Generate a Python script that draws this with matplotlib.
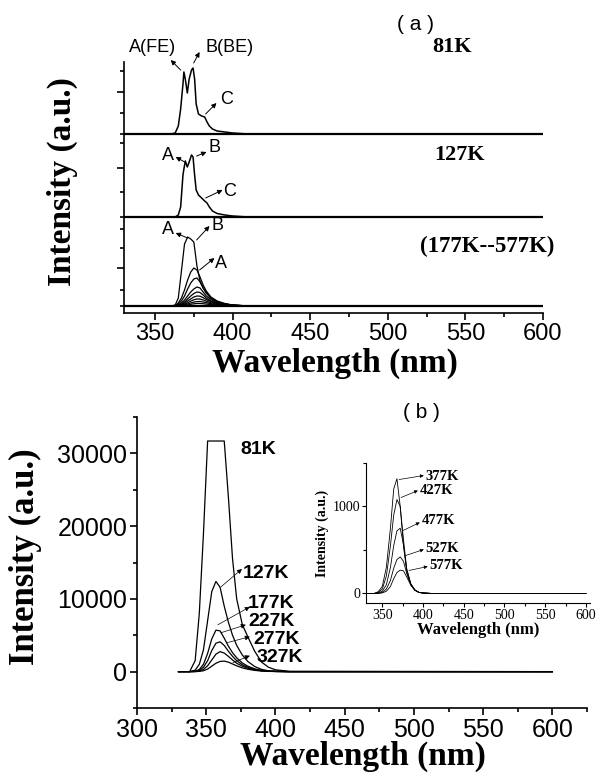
import numpy as np
import matplotlib
matplotlib.use("Agg")
from matplotlib import pyplot as plt

plt.rcParams['font.family'] = ['Liberation Sans', 'DejaVu Sans']

# ---- panel (a): stacked PL spectra (arbitrary units) ----
wl_a = [330, 355, 360, 363, 365, 366.5, 368, 368.6, 369.5, 370.8, 372, 373.5, 374.5,
        375.5, 376.5, 378, 380, 382, 383.5, 385, 387, 390, 395, 400, 410, 600]
pl_81k = [0, 0, 0, 1, 8, 25, 50, 62, 55, 41, 55, 64, 66, 55, 30, 20, 18, 17, 12, 8, 5, 3, 2, 1, 0, 0]
pl_127k = [0, 0, 0, 0, 2, 10, 42, 48, 56, 50, 55, 62, 60, 42, 27, 22, 19, 16, 14, 10, 6, 3.5, 2, 1, 0, 0]

wl_c = [330, 360, 363, 365, 367, 369, 371, 373, 375, 377, 379, 381, 383, 386, 390, 395, 400, 410, 600]
temps_c = ['177K', '227K', '277K', '327K', '377K', '427K', '477K', '527K', '577K']
pl_hot = [
    [0, 0, 1, 8, 35, 62, 69, 67, 64, 40, 25, 18, 13, 8, 4, 2, 1, 0, 0],
    [0, 0, 0.5, 3, 8, 16, 26, 34, 38, 36, 29, 21, 15, 9, 5, 2.5, 1, 0, 0],
    [0, 0, 0.3, 2, 5, 10, 17, 23, 27, 28, 24, 18, 13, 8, 4.5, 2, 1, 0, 0],
    [0, 0, 0.2, 1.2, 3, 6, 10, 14, 17, 19, 18, 14, 10, 6.5, 3.5, 1.8, 0.8, 0, 0],
    [0, 0, 0, 0.8, 2, 4, 7, 10, 12.5, 14, 13.5, 11, 8, 5, 3, 1.5, 0.6, 0, 0],
    [0, 0, 0, 0.5, 1.3, 2.8, 5, 7, 9, 10, 9.8, 8.3, 6.5, 4.2, 2.5, 1.2, 0.5, 0, 0],
    [0, 0, 0, 0.3, 0.8, 1.8, 3.2, 4.8, 6.2, 7, 6.9, 6, 4.8, 3.2, 2, 1, 0.4, 0, 0],
    [0, 0, 0, 0.2, 0.5, 1.1, 2, 3, 3.9, 4.4, 4.5, 4, 3.3, 2.3, 1.4, 0.7, 0.3, 0, 0],
    [0, 0, 0, 0.1, 0.3, 0.6, 1.1, 1.7, 2.2, 2.5, 2.5, 2.3, 1.9, 1.4, 0.9, 0.5, 0.2, 0, 0],
]
offsets_a = [172, 89, 0]

# ---- panel (b): intensity vs wavelength, 81K..327K ----
wl_b = [330, 338, 342, 345, 348, 351, 354, 357, 360, 363, 366, 369, 372, 376, 380, 385, 390, 395, 400, 410, 600]
temps_b = ['81K', '127K', '177K', '227K', '277K', '327K']
int_b = [
    [0, 0, 1500, 8000, 19000, 31700, 31700, 31700, 31700, 31700, 24000, 15500, 10000, 6500, 4800, 2800, 1300, 600, 250, 50, 0],
    [0, 0, 200, 1000, 3000, 7000, 11000, 12400, 11600, 9000, 6800, 5000, 3600, 2300, 1400, 700, 300, 120, 50, 0, 0],
    [0, 0, 50, 300, 1000, 2500, 4500, 5700, 5600, 4600, 3500, 2600, 1900, 1200, 750, 380, 170, 70, 30, 0, 0],
    [0, 0, 20, 150, 600, 1500, 2900, 3900, 4100, 3600, 2800, 2100, 1500, 950, 600, 300, 140, 60, 25, 0, 0],
    [0, 0, 10, 80, 300, 800, 1600, 2400, 2750, 2550, 2100, 1600, 1150, 750, 470, 240, 110, 50, 20, 0, 0],
    [0, 0, 5, 30, 120, 350, 750, 1150, 1400, 1450, 1300, 1050, 800, 520, 330, 170, 80, 35, 15, 0, 0],
]

# ---- inset: 377K..577K ----
wl_i = [330, 340, 345, 350, 355, 360, 364, 368, 372, 376, 380, 385, 390, 395, 400, 410, 450, 500, 550, 600]
temps_i = ['377K', '427K', '477K', '527K', '577K']
int_i = [
    [0, 0, 20, 80, 300, 750, 1200, 1320, 1000, 550, 250, 100, 38, 12, 5, 0, 0, 0, 0, 0],
    [0, 0, 10, 50, 200, 550, 900, 1080, 1000, 620, 280, 110, 40, 12, 5, 0, 0, 0, 0, 0],
    [0, 0, 5, 25, 100, 300, 550, 720, 750, 560, 280, 110, 40, 12, 5, 0, 0, 0, 0, 0],
    [0, 0, 2, 12, 50, 150, 290, 390, 420, 370, 230, 100, 38, 12, 5, 0, 0, 0, 0, 0],
    [0, 0, 1, 6, 25, 80, 170, 240, 268, 260, 190, 95, 36, 12, 5, 0, 0, 0, 0, 0],
]

W, H = 601, 774
fig = plt.figure(figsize=(W / 100, H / 100), dpi=100)


def px(x, y):
    return x / W, 1 - y / H


def style_axes(ax, lw=1.0):
    for s in ['top', 'right']:
        ax.spines[s].set_visible(False)
    for s in ['left', 'bottom']:
        ax.spines[s].set_linewidth(lw)
    ax.tick_params(which='both', direction='out', width=lw)


serif_bold = dict(family=['Liberation Serif', 'DejaVu Serif'], weight='bold')
arrow = dict(arrowstyle='-|>', lw=0.7, color='black', mutation_scale=7, shrinkA=0, shrinkB=0)

# ================= panel (a) =================
ax1 = fig.add_axes([124 / W, 1 - 313 / H, 419 / W, 251 / H])
style_axes(ax1, 1.2)
ax1.plot(wl_a, np.array(pl_81k) + offsets_a[0], color='black', lw=1.1)
ax1.plot(wl_a, np.array(pl_127k) + offsets_a[1], color='black', lw=1.1)
for vals in pl_hot:
    ax1.plot(wl_c, np.array(vals) + offsets_a[2], color='black', lw=0.9)
# heavier baselines at the panel joins
for off in offsets_a:
    ax1.plot([330, 600], [off, off], color='black', lw=1.6)
ax1.set_xlim(330, 600)
ax1.set_ylim(-7, 244)
ax1.set_xticks([350, 400, 450, 500, 550, 600])
ax1.set_xticks(np.arange(350, 601, 25), minor=True)
ax1.set_yticks([214, 138, 38])
ax1.set_yticks([235, 193, 172, 163, 114, 89, 77, 58, 16, 0], minor=True)
ax1.set_yticklabels([])
ax1.tick_params(axis='x', labelsize=17, length=5, pad=2)
ax1.tick_params(axis='x', which='minor', length=3)
ax1.tick_params(axis='y', length=5)
ax1.tick_params(axis='y', which='minor', length=3)

# peak labels
ax1.text(348.6, 258, 'A(FE)', fontsize=13, ha='center', va='center')
ax1.annotate('', xy=(360.1, 246), xytext=(366.5, 236), arrowprops=arrow, annotation_clip=False)
ax1.text(398, 258, 'B(BE)', fontsize=13, ha='center', va='center')
ax1.annotate('', xy=(378.7, 254), xytext=(374.9, 243), arrowprops=arrow, annotation_clip=False)
ax1.text(396, 206, 'C', fontsize=13, ha='center', va='center')
ax1.annotate('', xy=(389.6, 203), xytext=(382.6, 192), arrowprops=arrow)

ax1.text(358.2, 151, 'A', fontsize=13, ha='center', va='center')
ax1.annotate('', xy=(363.3, 149), xytext=(369.1, 144), arrowprops=arrow)
ax1.text(388.3, 159, 'B', fontsize=13, ha='center', va='center')
ax1.annotate('', xy=(383.2, 154), xytext=(376.8, 150), arrowprops=arrow)
ax1.text(398, 114, 'C', fontsize=13, ha='center', va='center')
ax1.annotate('', xy=(393.5, 116), xytext=(382.6, 108), arrowprops=arrow)

ax1.text(358.2, 76, 'A', fontsize=13, ha='center', va='center')
ax1.annotate('', xy=(363.3, 73), xytext=(371, 68), arrowprops=arrow)
ax1.text(390.3, 81, 'B', fontsize=13, ha='center', va='center')
ax1.annotate('', xy=(385.1, 80), xytext=(376.8, 66), arrowprops=arrow)
ax1.text(392.8, 43, 'A', fontsize=13, ha='center', va='center')
ax1.annotate('', xy=(388.3, 48), xytext=(378.7, 36), arrowprops=arrow)

fig.text(*px(415, 25), '( a )', fontsize=15, ha='center', va='center')
fig.text(*px(452, 47), '81K', fontsize=16, ha='center', va='center', **serif_bold)
fig.text(*px(460, 155), '127K', fontsize=16, ha='center', va='center', **serif_bold)
fig.text(*px(487, 246), '(177K--577K)', fontsize=16.5, ha='center', va='center', **serif_bold)
fig.text(*px(62, 182), 'Intensity (a.u.)', fontsize=24, rotation=90, ha='center', va='center', **serif_bold)
fig.text(*px(335, 363), 'Wavelength (nm)', fontsize=24, ha='center', va='center', **serif_bold)

# ================= panel (b) =================
ax2 = fig.add_axes([137 / W, 1 - 708 / H, 450 / W, 291 / H])
style_axes(ax2, 1.2)
for vals in int_b:
    ax2.plot(wl_b, vals, color='black', lw=0.9)
ax2.set_xlim(300, 625)
ax2.set_ylim(-5000, 35000)
ax2.set_xticks([300, 350, 400, 450, 500, 550, 600])
ax2.set_xticks(np.arange(300, 626, 25), minor=True)
ax2.set_yticks([0, 10000, 20000, 30000])
ax2.set_yticks(np.arange(-5000, 35001, 5000), minor=True)
ax2.tick_params(axis='both', labelsize=18, length=5, pad=2)
ax2.tick_params(which='minor', length=3)

lab_b = dict(fontsize=14, weight='bold', ha='left', va='center')
fig.text(*px(240, 450), temps_b[0], **lab_b)
b_arrows = [((360.6, 11645), (375.8, 14111)), ((358.4, 6439), (381.5, 8905)),
            ((360.6, 5343), (378.6, 6439)), ((364.9, 3973), (381.5, 4795)),
            ((369.3, 1233), (381.5, 2192))]
b_text_y = [573, 603, 621, 640, 658]
b_text_x = [243, 248, 248, 253, 257]
for name, (tail, head), tx, ty in zip(temps_b[1:], b_arrows, b_text_x, b_text_y):
    ax2.annotate('', xy=head, xytext=tail, arrowprops=dict(arrow, lw=0.5))
    fig.text(*px(tx, ty), name, **lab_b)

fig.text(*px(421, 413), '( b )', fontsize=15, ha='center', va='center')
fig.text(*px(25, 557), 'Intensity (a.u.)', fontsize=25, rotation=90, ha='center', va='center', **serif_bold)
fig.text(*px(363, 756), 'Wavelength (nm)', fontsize=24, ha='center', va='center', **serif_bold)

# ================= inset =================
ax3 = fig.add_axes([366 / W, 1 - 603 / H, 224 / W, 140 / H])
style_axes(ax3, 0.8)
for vals in int_i:
    ax3.plot(wl_i, vals, color='black', lw=0.6)
ax3.set_xlim(330, 605)
ax3.set_ylim(-110, 1500)
ax3.set_xticks([350, 400, 450, 500, 550, 600])
ax3.set_xticks(np.arange(350, 601, 25), minor=True)
ax3.set_yticks([0, 1000])
ax3.set_yticks([500, 1500], minor=True)
ax3.tick_params(axis='both', labelsize=10, length=3, pad=1)
ax3.tick_params(which='minor', length=2)
for lab in ax3.get_xticklabels() + ax3.get_yticklabels():
    lab.set_family(['Liberation Serif', 'DejaVu Serif'])
ax3.set_xlabel('Wavelength (nm)', fontsize=12, labelpad=0, **serif_bold)
ax3.set_ylabel('Intensity (a.u.)', fontsize=10, labelpad=1, **serif_bold)
ax3.yaxis.set_label_coords(-0.165, 0.5)

i_arrows = [((370.6, 1310), (401, 1356)), ((373, 1103), (393.7, 1183)),
            ((375.5, 724), (396, 816)), ((379, 437), (401, 506)),
            ((382.8, 264), (405.8, 310))]
i_text = [(403.4, 1345), (396, 1183), (398.5, 839), (403.4, 517), (408, 322)]
for name, (tail, head), (tx, ty) in zip(temps_i, i_arrows, i_text):
    ax3.annotate('', xy=head, xytext=tail, arrowprops=dict(arrow, lw=0.5, mutation_scale=5))
    ax3.text(tx, ty, name, fontsize=10.5, ha='left', va='center', **serif_bold)

fig.savefig('out.png', dpi=100)
